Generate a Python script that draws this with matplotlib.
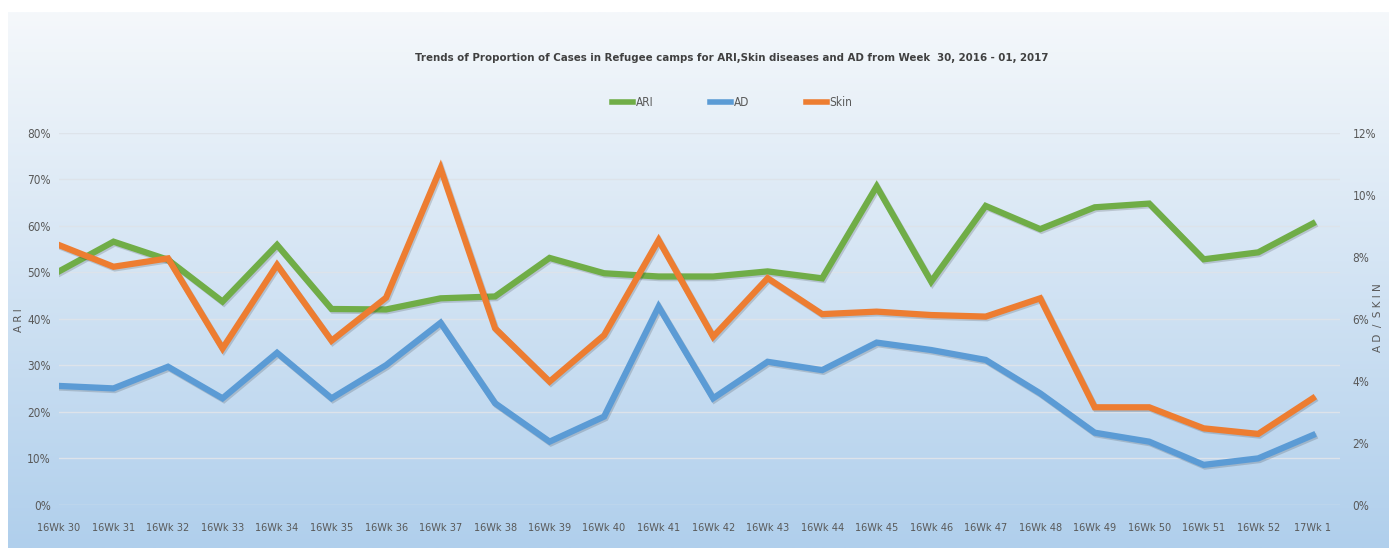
import matplotlib
matplotlib.use('Agg')
import matplotlib.pyplot as plt
import matplotlib.patheffects as pe
from matplotlib.ticker import PercentFormatter
import numpy as np

# weeks
weeks = ['16Wk 30', '16Wk 31', '16Wk 32', '16Wk 33', '16Wk 34', '16Wk 35',
         '16Wk 36', '16Wk 37', '16Wk 38', '16Wk 39', '16Wk 40', '16Wk 41',
         '16Wk 42', '16Wk 43', '16Wk 44', '16Wk 45', '16Wk 46', '16Wk 47',
         '16Wk 48', '16Wk 49', '16Wk 50', '16Wk 51', '16Wk 52', '17Wk 1']

# proportions (fractions)
ari = [0.502, 0.566, 0.527, 0.437, 0.559, 0.421, 0.420, 0.444, 0.448, 0.531,
       0.498, 0.491, 0.491, 0.502, 0.487, 0.685, 0.480, 0.643, 0.593, 0.640,
       0.648, 0.528, 0.543, 0.605]
ad = [0.0383, 0.0375, 0.0445, 0.0343, 0.0490, 0.0343, 0.0450, 0.0587, 0.0327,
      0.0203, 0.0284, 0.0639, 0.0343, 0.0461, 0.0434, 0.0523, 0.0499, 0.0467,
      0.0359, 0.0232, 0.0203, 0.0128, 0.0149, 0.0224]
skin = [0.0838, 0.0768, 0.0795, 0.0504, 0.0774, 0.0529, 0.0668, 0.1086, 0.0569,
        0.0397, 0.0547, 0.0854, 0.0542, 0.0731, 0.0615, 0.0623, 0.0612, 0.0607,
        0.0666, 0.0314, 0.0314, 0.0246, 0.0228, 0.0343]

narrow = ['Liberation Sans Narrow', 'DejaVu Sans']
grey = '#595959'

fig = plt.figure(figsize=(13.97, 5.48), dpi=100)

# gradient background
bg = fig.add_axes([8/1397, 0, 1 - 16/1397, 1 - 12/548], zorder=-10)
top = np.array([245, 248, 251]) / 255
bot = np.array([176, 207, 236]) / 255
t = np.linspace(0, 1, 256)[:, None, None]
grad = top * (1 - t) + bot * t
grad = np.repeat(grad, 2, axis=1)
bg.imshow(grad, aspect='auto', extent=[0, 1, 0, 1])
bg.axis('off')

ax = fig.add_axes([59/1397, 43.5/548, (1340 - 59)/1397, 371.5/548])
ax.patch.set_visible(False)
ax2 = ax.twinx()
ax2.patch.set_visible(False)

x = np.arange(len(weeks))
shadow = [pe.SimpleLineShadow(offset=(1, -1.2), alpha=0.15), pe.Normal()]

l1, = ax.plot(x, ari, color='#70ad47', lw=4.5, label='ARI',
              solid_joinstyle='miter', path_effects=shadow)
l2, = ax2.plot(x, ad, color='#5b9bd5', lw=4.5, label='AD',
               solid_joinstyle='miter', path_effects=shadow)
l3, = ax2.plot(x, skin, color='#ed7d31', lw=4.5, label='Skin',
               solid_joinstyle='miter', path_effects=shadow)

ax.set_xlim(0, 23.5)
ax.set_ylim(0, 0.8)
ax2.set_ylim(0, 0.12)
ax.set_yticks(np.arange(0, 0.81, 0.1))
ax2.set_yticks(np.arange(0, 0.121, 0.02))
ax.yaxis.set_major_formatter(PercentFormatter(1.0, decimals=0))
ax2.yaxis.set_major_formatter(PercentFormatter(1.0, decimals=0))
ax.set_xticks(x)
ax.set_xticklabels(weeks)

ax.grid(axis='y', color='#dde3ea', lw=1)
ax.set_axisbelow(True)

for a in (ax, ax2):
    for s in a.spines.values():
        s.set_visible(False)
    a.tick_params(length=0, colors=grey, labelsize=8.5)
    for lab in a.get_xticklabels() + a.get_yticklabels():
        lab.set_family(narrow)
        lab.set_stretch('condensed')
for lab in ax.get_xticklabels():
    lab.set_fontsize(7.8)
ax.tick_params(axis='x', pad=13)
ax.tick_params(axis='y', pad=6)
ax2.tick_params(axis='y', pad=9)

fig.text(19/1397, 1 - 320/548, 'A R I', rotation=90, ha='center', va='center',
         color=grey, fontsize=7.5)
fig.text(1378/1397, 1 - 318/548, 'A D  /  S K I N', rotation=90, ha='center',
         va='center', color=grey, fontsize=7.5)

fig.text(0.524, 1 - 58/548,
         'Trends of Proportion of Cases in Refugee camps for ARI,Skin diseases and AD from Week  30, 2016 - 01, 2017',
         ha='center', va='center', fontsize=8.2, fontweight='bold',
         color='#404040', family=narrow, fontstretch='condensed')

fig.legend(handles=[l1, l2, l3], loc='center', bbox_to_anchor=(0.524, 1 - 103/548),
           ncol=3, frameon=False, handlelength=1.8, handletextpad=0.2,
           columnspacing=4.8,
           prop={'family': narrow, 'size': 8.5, 'stretch': 'condensed'},
           labelcolor=grey)
for h in fig.legends[0].legend_handles:
    h.set_linewidth(4)
    h.set_path_effects([])

fig.savefig('out.png', dpi=100)
